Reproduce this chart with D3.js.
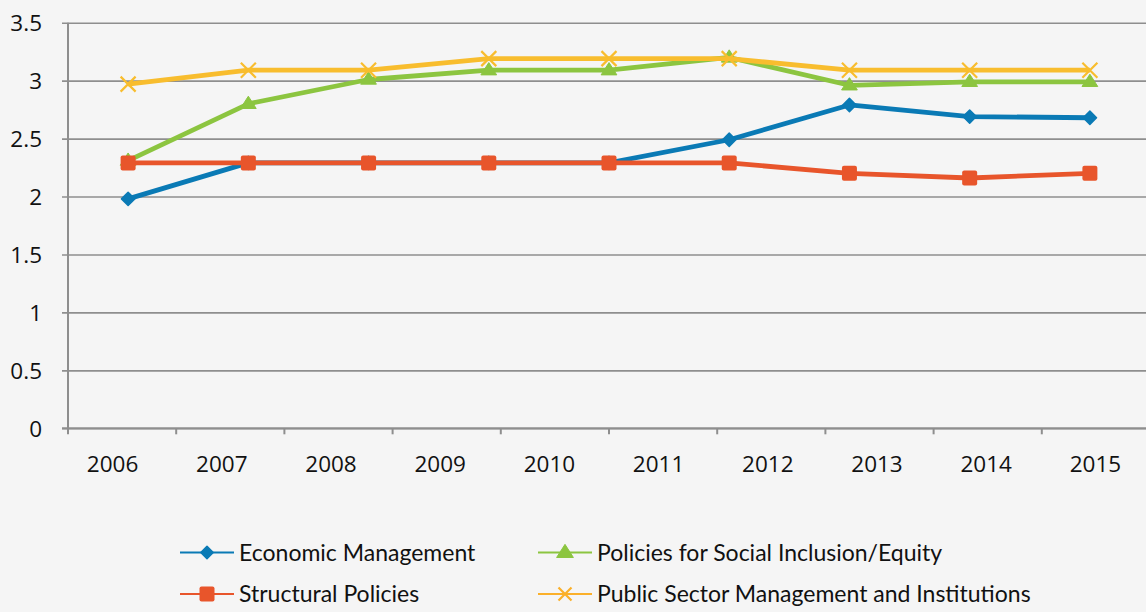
<!DOCTYPE html>
<html><head><meta charset="utf-8">
<script src="https://cdn.jsdelivr.net/npm/d3@7"></script>
<style>
html,body{margin:0;padding:0;background:#f5f5f5;}
svg{display:block;}
</style></head>
<body>
<svg id="chart" width="1146" height="612"></svg>
<script>
// ---- data ----
const axisYears = ["2006","2007","2008","2009","2010","2011","2012","2013","2014","2015"];
const pointSlots = ["p1","p2","p3","p4","p5","p6","p7","p8","p9"];
const yTicks = [0, 0.5, 1, 1.5, 2, 2.5, 3, 3.5];
const economicManagement = [1.98, 2.29, 2.29, 2.29, 2.29, 2.49, 2.79, 2.69, 2.68];
const socialInclusion    = [2.31, 2.80, 3.01, 3.09, 3.09, 3.20, 2.96, 2.99, 2.99];
const structuralPolicies = [2.29, 2.29, 2.29, 2.29, 2.29, 2.29, 2.20, 2.16, 2.20];
const publicSector       = [2.97, 3.09, 3.09, 3.19, 3.19, 3.19, 3.09, 3.09, 3.09];
const seriesNames = ["Economic Management","Policies for Social Inclusion/Equity","Structural Policies","Public Sector Management and Institutions"];

(function () {
const series = [
  {name: seriesNames[0], values: economicManagement, color:"#0a7ab5", legendColor:"#0a7ab5", marker:"diamond"},
  {name: seriesNames[1], values: socialInclusion, color:"#8cc540", legendColor:"#8cc540", marker:"triangle"},
  {name: seriesNames[2], values: structuralPolicies, color:"#e8552b", legendColor:"#e8552b", marker:"square"},
  {name: seriesNames[3], values: publicSector, color:"#f8bd2e", legendColor:"#fbb02a", marker:"x"}
];

const svg = d3.select("#chart");
const plotLeft = 68, plotRight = 1150, plotTop = 22.7, plotBottom = 428.3;
const gridColor = "#8e8e8e";

const y = d3.scaleLinear().domain([0, 3.5]).range([plotBottom, plotTop]);
const xAxisBand = d3.scaleBand().domain(axisYears).range([plotLeft, plotRight]);
const xLabelBand = d3.scaleBand().domain(axisYears).range([58, 1150]);
const xPoint = d3.scaleBand().domain(pointSlots).range([plotLeft, plotRight]);

// gridlines + y axis ticks
const yAxis = d3.axisLeft(y).tickValues(yTicks).tickFormat(d3.format("")).tickSize(-(plotRight - plotLeft)).tickPadding(0);
const gy = svg.append("g").attr("transform", `translate(${plotLeft},0)`).call(yAxis);
gy.select(".domain").remove();
gy.selectAll(".tick line").attr("x1", -6).attr("stroke", gridColor).attr("stroke-width", 1.6);
gy.selectAll(".tick text")
  .attr("x", -26)
  .attr("dy", "0.35em")
  .attr("fill", "#111")
  .style("font-family", "'Open Sans', sans-serif")
  .style("font-size", "22.5px");

// y axis line
svg.append("line").attr("x1", plotLeft).attr("x2", plotLeft).attr("y1", plotTop).attr("y2", plotBottom)
  .attr("stroke", gridColor).attr("stroke-width", 2);
// x axis line
svg.append("line").attr("x1", plotLeft - 6).attr("x2", plotRight).attr("y1", plotBottom).attr("y2", plotBottom)
  .attr("stroke", gridColor).attr("stroke-width", 2);

// x tick marks at band boundaries
const boundaries = axisYears.map(d => xAxisBand(d)).concat([plotRight]);
svg.append("g").selectAll("line").data(boundaries).join("line")
  .attr("x1", d => d).attr("x2", d => d)
  .attr("y1", plotBottom).attr("y2", plotBottom + 6)
  .attr("stroke", gridColor).attr("stroke-width", 2);

// x labels
svg.append("g").selectAll("text").data(axisYears).join("text")
  .attr("x", d => xLabelBand(d) + xLabelBand.bandwidth() / 2)
  .attr("y", 472)
  .attr("text-anchor", "middle")
  .attr("fill", "#111")
  .style("font-family", "'Open Sans', sans-serif")
  .style("font-size", "22.5px")
  .text(d => d);

// marker helper
function drawMarker(g, type, color, size) {
  if (type === "diamond") {
    g.append("path").attr("d", d3.symbol(d3.symbolDiamond2, size * size * 0.5)())
      .attr("fill", color).attr("stroke", color).attr("stroke-width", 1.5).attr("stroke-linejoin", "round");
  } else if (type === "square") {
    g.append("rect").attr("x", -size / 2).attr("y", -size / 2).attr("width", size).attr("height", size)
      .attr("rx", 2).attr("fill", color);
  } else if (type === "triangle") {
    const h = size * 0.82, w = size * 1.05;
    g.append("path").attr("d", `M0,${-h * 0.62}L${w / 2},${h * 0.38}L${-w / 2},${h * 0.38}Z`)
      .attr("fill", color).attr("stroke", color).attr("stroke-width", 1).attr("stroke-linejoin", "round");
  } else if (type === "x") {
    const s = size / 2;
    g.append("path").attr("d", `M${-s},${-s}L${s},${s}M${-s},${s}L${s},${-s}`)
      .attr("stroke", color).attr("stroke-width", 2.2).attr("fill", "none");
  }
}

// lines + markers
const line = d3.line().x((d, i) => xPoint(pointSlots[i]) + xPoint.bandwidth() / 2).y(d => y(d));
series.forEach(s => {
  const g = svg.append("g");
  g.append("path").datum(s.values).attr("d", line)
    .attr("fill", "none").attr("stroke", s.color).attr("stroke-width", 4.8)
    .attr("stroke-linejoin", "round");
  s.values.forEach((v, i) => {
    const mg = g.append("g").attr("transform", `translate(${xPoint(pointSlots[i]) + xPoint.bandwidth() / 2},${y(v)})`);
    const sz = s.marker === "diamond" ? 15 : s.marker === "square" ? 15 : 15;
    drawMarker(mg, s.marker, s.color, sz);
  });
});

// legend
const legendPos = [
  {x: 180, y: 552.5},
  {x: 538, y: 552.5},
  {x: 180, y: 594},
  {x: 538, y: 594}
];
series.forEach((s, i) => {
  const p = legendPos[i];
  const g = svg.append("g").attr("transform", `translate(${p.x},${p.y})`);
  g.append("line").attr("x1", 0).attr("x2", 54).attr("stroke", s.legendColor).attr("stroke-width", 2.2);
  const mg = g.append("g").attr("transform", "translate(27,0)");
  const sz = s.marker === "diamond" ? 14 : s.marker === "square" ? 15 : s.marker === "triangle" ? 16 : 13;
  drawMarker(mg, s.marker, s.legendColor, sz);
  g.append("text").attr("x", 59).attr("y", 0).attr("dy", "0.36em")
    .attr("fill", "#111")
    .style("font-family", "Lato, sans-serif")
    .style("font-size", "23px")
    .text(s.name);
});
})();
</script>
</body></html>
